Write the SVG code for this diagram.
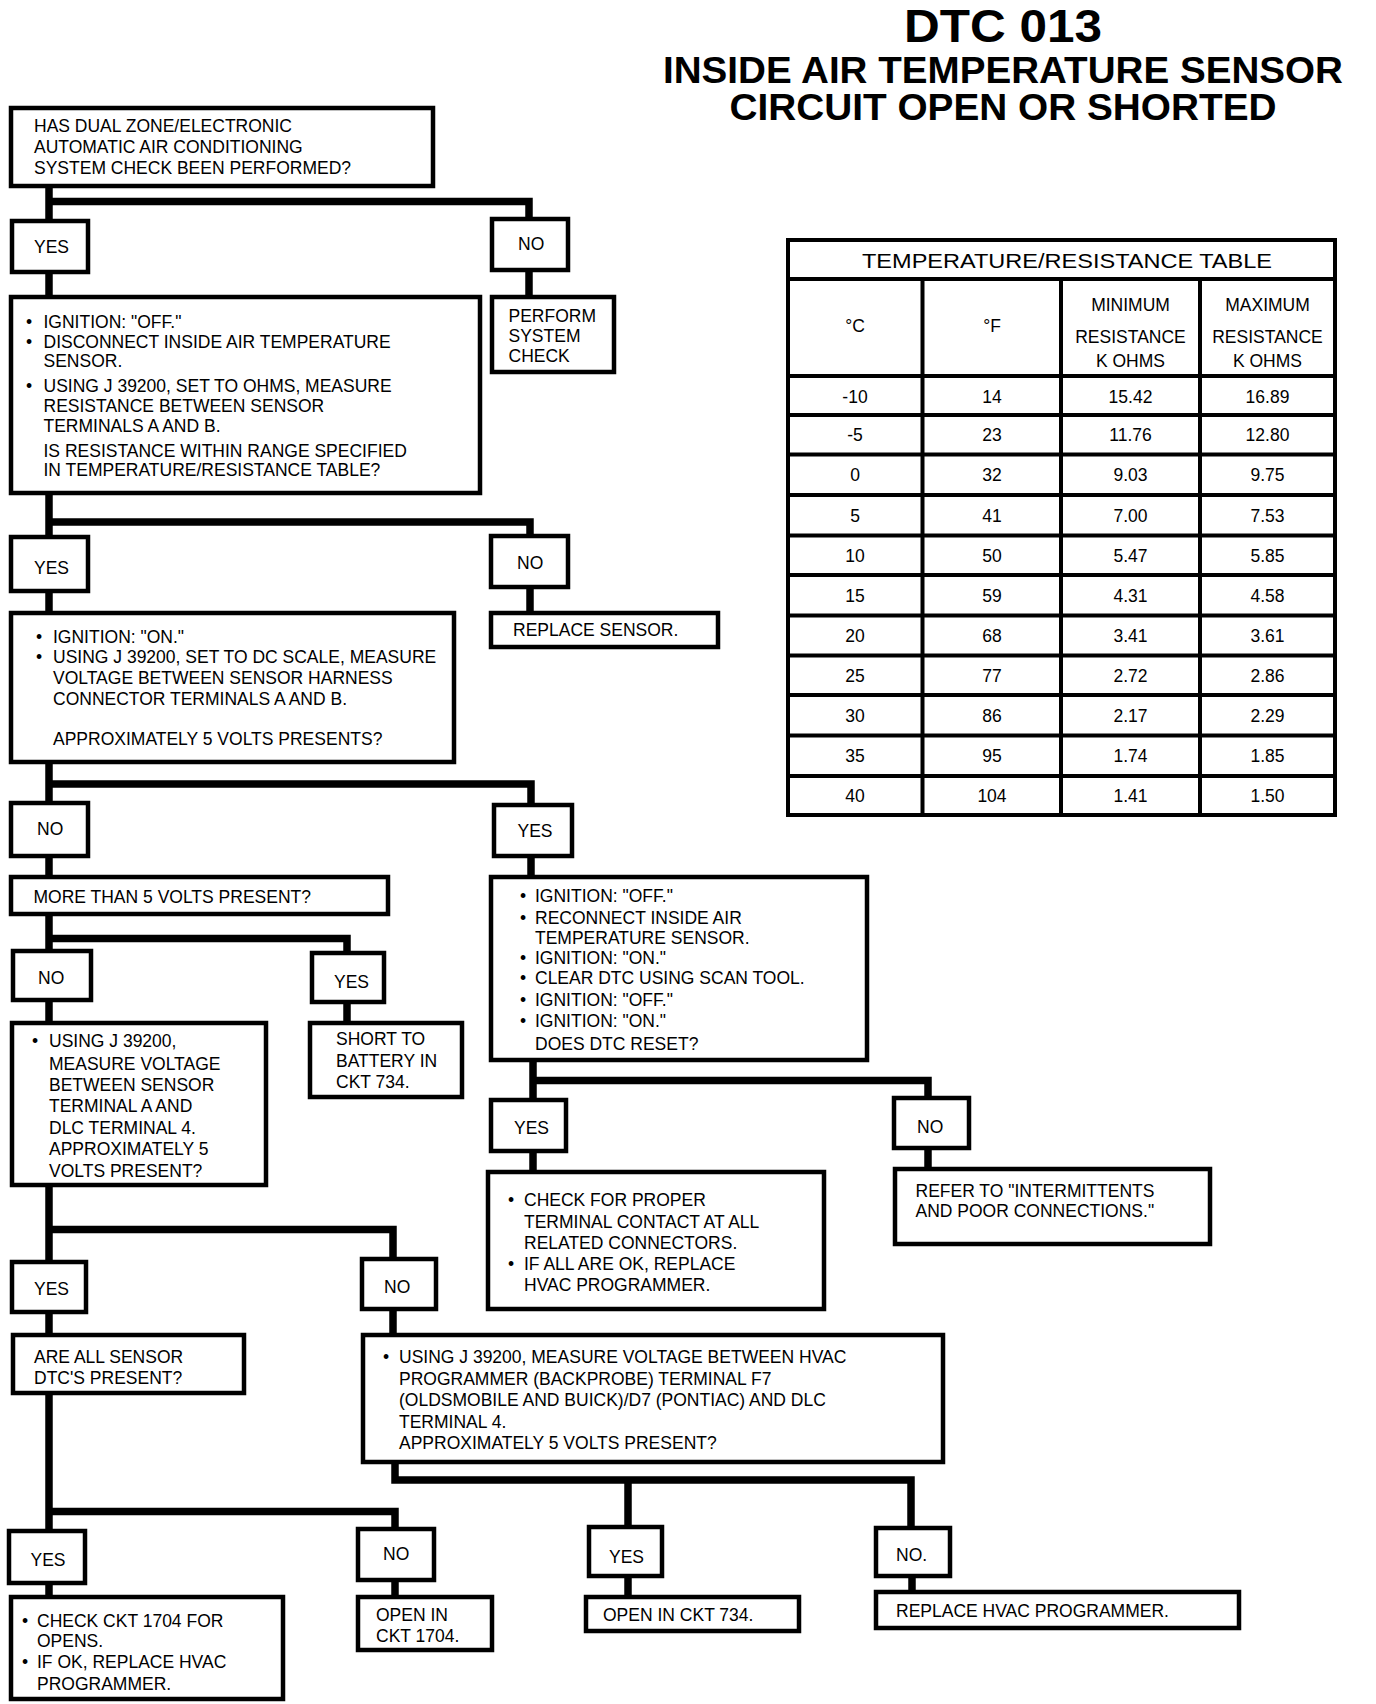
<svg xmlns="http://www.w3.org/2000/svg" width="1376" height="1704" viewBox="0 0 1376 1704">
<style>
  .bx { fill: #fff; stroke: #000; stroke-width: 4.5; }
  .cn { fill: none; stroke: #000; stroke-width: 7.5; stroke-linejoin: miter; stroke-linecap: butt; }
  .tl { fill: none; stroke: #000; stroke-width: 4; }
  text { font-family: "Liberation Sans", Arial, Helvetica, sans-serif; font-size: 17.5px; fill: #000; }
  .m { text-anchor: middle; }
  .h { font-weight: bold; text-anchor: middle; }
</style>
<rect width="1376" height="1704" fill="#fff"/>

<g id="title">
  <text class="h" x="1003" y="42" style="font-size:46px" textLength="198" lengthAdjust="spacingAndGlyphs">DTC 013</text>
  <text class="h" x="1003" y="82.5" style="font-size:37px" textLength="680" lengthAdjust="spacingAndGlyphs">INSIDE AIR TEMPERATURE SENSOR</text>
  <text class="h" x="1003" y="120" style="font-size:37px" textLength="547" lengthAdjust="spacingAndGlyphs">CIRCUIT OPEN OR SHORTED</text>
</g>

<g id="connectors">
  <path class="cn" d="M49,187 V220 M49,201.5 H529 V218"/>
  <path class="cn" d="M49,272 V297"/>
  <path class="cn" d="M529,270 V297"/>
  <path class="cn" d="M49,494 V537 M49,522 H530 V535"/>
  <path class="cn" d="M49,591 V612"/>
  <path class="cn" d="M530,587 V612"/>
  <path class="cn" d="M49,763 V802 M49,784 H531 V804"/>
  <path class="cn" d="M49,856 V876"/>
  <path class="cn" d="M531,856 V876"/>
  <path class="cn" d="M49,914 V950 M49,938.5 H347 V952"/>
  <path class="cn" d="M49,1000 V1022"/>
  <path class="cn" d="M347,1002 V1022"/>
  <path class="cn" d="M533,1061 V1099 M533,1080.5 H928 V1097"/>
  <path class="cn" d="M533,1152 V1171"/>
  <path class="cn" d="M928,1149 V1168"/>
  <path class="cn" d="M49,1186 V1261 M49,1229.5 H393 V1258"/>
  <path class="cn" d="M49,1313 V1334"/>
  <path class="cn" d="M393,1310 V1334"/>
  <path class="cn" d="M49,1394 V1530 M49,1511.5 H395 V1528"/>
  <path class="cn" d="M49,1584 V1596"/>
  <path class="cn" d="M395,1581 V1596"/>
  <path class="cn" d="M395,1463 V1480 H911 V1527 M628,1480 V1526"/>
  <path class="cn" d="M628,1577 V1596"/>
  <path class="cn" d="M912,1577 V1591"/>
</g>

<g id="n-start">
  <rect class="bx" x="11" y="108" width="422" height="78"/>
  <text x="34" y="132">HAS DUAL ZONE/ELECTRONIC</text>
  <text x="34" y="153">AUTOMATIC AIR CONDITIONING</text>
  <text x="34" y="173.5">SYSTEM CHECK BEEN PERFORMED?</text>
</g>
<g id="n-yes1"><rect class="bx" x="12" y="221" width="76" height="51"/><text x="34" y="253">YES</text></g>
<g id="n-no1"><rect class="bx" x="492" y="219" width="76" height="51"/><text x="518" y="250">NO</text></g>
<g id="n-perform">
  <rect class="bx" x="492" y="297" width="122" height="75"/>
  <text x="508.5" y="322">PERFORM</text>
  <text x="508.5" y="342">SYSTEM</text>
  <text x="508.5" y="362">CHECK</text>
</g>
<g id="n-ohms">
  <rect class="bx" x="11" y="297" width="469" height="196"/>
  <text y="328"><tspan x="26">•</tspan><tspan x="43.5">IGNITION: "OFF."</tspan></text>
  <text y="348"><tspan x="26">•</tspan><tspan x="43.5">DISCONNECT INSIDE AIR TEMPERATURE</tspan></text>
  <text x="43.5" y="367">SENSOR.</text>
  <text y="391.5"><tspan x="26">•</tspan><tspan x="43.5">USING J 39200, SET TO OHMS, MEASURE</tspan></text>
  <text x="43.5" y="411.5">RESISTANCE BETWEEN SENSOR</text>
  <text x="43.5" y="431.5">TERMINALS A AND B.</text>
  <text x="43.5" y="456.5">IS RESISTANCE WITHIN RANGE SPECIFIED</text>
  <text x="43.5" y="476">IN TEMPERATURE/RESISTANCE TABLE?</text>
</g>
<g id="n-yes2"><rect class="bx" x="11" y="537" width="77" height="54"/><text x="34" y="574">YES</text></g>
<g id="n-no2"><rect class="bx" x="491" y="536" width="77" height="51"/><text x="517" y="568.5">NO</text></g>
<g id="n-replace-sensor"><rect class="bx" x="491" y="613" width="227" height="34"/><text x="513" y="636">REPLACE SENSOR.</text></g>
<g id="n-volts">
  <rect class="bx" x="11" y="613" width="443" height="149"/>
  <text y="643"><tspan x="36">•</tspan><tspan x="53">IGNITION: "ON."</tspan></text>
  <text y="663"><tspan x="36">•</tspan><tspan x="53">USING J 39200, SET TO DC SCALE, MEASURE</tspan></text>
  <text x="53" y="684">VOLTAGE BETWEEN SENSOR HARNESS</text>
  <text x="53" y="705">CONNECTOR TERMINALS A AND B.</text>
  <text x="53" y="745">APPROXIMATELY 5 VOLTS PRESENTS?</text>
</g>
<g id="n-no3"><rect class="bx" x="11" y="803" width="77" height="53"/><text x="37" y="835">NO</text></g>
<g id="n-yes3"><rect class="bx" x="494" y="805" width="78" height="51"/><text x="517.5" y="837">YES</text></g>
<g id="n-more"><rect class="bx" x="11" y="877" width="377" height="37"/><text x="33.5" y="903">MORE THAN 5 VOLTS PRESENT?</text></g>
<g id="n-reset">
  <rect class="bx" x="491" y="877" width="376" height="183"/>
  <text y="902"><tspan x="520">•</tspan><tspan x="535">IGNITION: "OFF."</tspan></text>
  <text y="924"><tspan x="520">•</tspan><tspan x="535">RECONNECT INSIDE AIR</tspan></text>
  <text x="535" y="943.5">TEMPERATURE SENSOR.</text>
  <text y="963.5"><tspan x="520">•</tspan><tspan x="535">IGNITION: "ON."</tspan></text>
  <text y="984"><tspan x="520">•</tspan><tspan x="535">CLEAR DTC USING SCAN TOOL.</tspan></text>
  <text y="1005.5"><tspan x="520">•</tspan><tspan x="535">IGNITION: "OFF."</tspan></text>
  <text y="1027"><tspan x="520">•</tspan><tspan x="535">IGNITION: "ON."</tspan></text>
  <text x="535" y="1050">DOES DTC RESET?</text>
</g>
<g id="n-no4"><rect class="bx" x="13" y="951" width="78" height="49"/><text x="38" y="984">NO</text></g>
<g id="n-yes4"><rect class="bx" x="312" y="953" width="72" height="49"/><text x="334" y="988">YES</text></g>
<g id="n-dlc">
  <rect class="bx" x="12" y="1023" width="254" height="162"/>
  <text y="1047"><tspan x="32">•</tspan><tspan x="49">USING J 39200,</tspan></text>
  <text x="49" y="1069.5">MEASURE VOLTAGE</text>
  <text x="49" y="1090.5">BETWEEN SENSOR</text>
  <text x="49" y="1112">TERMINAL A AND</text>
  <text x="49" y="1133.5">DLC TERMINAL 4.</text>
  <text x="49" y="1155">APPROXIMATELY 5</text>
  <text x="49" y="1176.5">VOLTS PRESENT?</text>
</g>
<g id="n-short">
  <rect class="bx" x="310" y="1023" width="152" height="74"/>
  <text x="336" y="1045">SHORT TO</text>
  <text x="336" y="1067">BATTERY IN</text>
  <text x="336" y="1088">CKT 734.</text>
</g>
<g id="n-yes5"><rect class="bx" x="491" y="1100" width="75" height="51"/><text x="514" y="1134">YES</text></g>
<g id="n-no5"><rect class="bx" x="894" y="1098" width="75" height="50"/><text x="917" y="1133">NO</text></g>
<g id="n-check-contact">
  <rect class="bx" x="488" y="1172" width="336" height="137"/>
  <text y="1206"><tspan x="508">•</tspan><tspan x="524">CHECK FOR PROPER</tspan></text>
  <text x="524" y="1227.5">TERMINAL CONTACT AT ALL</text>
  <text x="524" y="1248.5">RELATED CONNECTORS.</text>
  <text y="1270"><tspan x="508">•</tspan><tspan x="524">IF ALL ARE OK, REPLACE</tspan></text>
  <text x="524" y="1291">HVAC PROGRAMMER.</text>
</g>
<g id="n-refer">
  <rect class="bx" x="895" y="1169" width="315" height="75"/>
  <text x="915.5" y="1197">REFER TO "INTERMITTENTS</text>
  <text x="915.5" y="1216.5">AND POOR CONNECTIONS."</text>
</g>
<g id="n-yes6"><rect class="bx" x="12" y="1262" width="74" height="50"/><text x="34" y="1295">YES</text></g>
<g id="n-no6"><rect class="bx" x="362" y="1259" width="74" height="50"/><text x="384" y="1293">NO</text></g>
<g id="n-all-dtc">
  <rect class="bx" x="13" y="1335" width="231" height="58"/>
  <text x="34" y="1363">ARE ALL SENSOR</text>
  <text x="34" y="1383.5">DTC'S PRESENT?</text>
</g>
<g id="n-hvac-volts">
  <rect class="bx" x="363" y="1335" width="580" height="127"/>
  <text y="1363"><tspan x="383">•</tspan><tspan x="399">USING J 39200, MEASURE VOLTAGE BETWEEN HVAC</tspan></text>
  <text x="399" y="1385">PROGRAMMER (BACKPROBE) TERMINAL F7</text>
  <text x="399" y="1406">(OLDSMOBILE AND BUICK)/D7 (PONTIAC) AND DLC</text>
  <text x="399" y="1428">TERMINAL 4.</text>
  <text x="399" y="1448.5">APPROXIMATELY 5 VOLTS PRESENT?</text>
</g>
<g id="n-yes7"><rect class="bx" x="9" y="1531" width="76" height="52"/><text x="30.5" y="1566">YES</text></g>
<g id="n-no7"><rect class="bx" x="358" y="1529" width="76" height="51"/><text x="383" y="1560">NO</text></g>
<g id="n-yes8"><rect class="bx" x="589" y="1527" width="73" height="49"/><text x="609" y="1562.5">YES</text></g>
<g id="n-no8"><rect class="bx" x="876" y="1528" width="74" height="48"/><text x="896" y="1561">NO.</text></g>
<g id="n-ckt1704">
  <rect class="bx" x="11" y="1597" width="272" height="102"/>
  <text y="1626.5"><tspan x="22">•</tspan><tspan x="37">CHECK CKT 1704 FOR</tspan></text>
  <text x="37" y="1647">OPENS.</text>
  <text y="1667.5"><tspan x="22">•</tspan><tspan x="37">IF OK, REPLACE HVAC</tspan></text>
  <text x="37" y="1689.5">PROGRAMMER.</text>
</g>
<g id="n-open1704">
  <rect class="bx" x="358" y="1597" width="134" height="53"/>
  <text x="376" y="1621">OPEN IN</text>
  <text x="376" y="1641.5">CKT 1704.</text>
</g>
<g id="n-open734"><rect class="bx" x="586" y="1597" width="213" height="34"/><text x="603" y="1621">OPEN IN CKT 734.</text></g>
<g id="n-replace-hvac"><rect class="bx" x="876" y="1592" width="363" height="36"/><text x="896" y="1616.5">REPLACE HVAC PROGRAMMER.</text></g>

<g id="table">
  <rect class="tl" x="788" y="240" width="547" height="575"/>
  <path class="tl" d="M788,279 H1335 M788,376 H1335 M788,415 H1335 M788,454.5 H1335 M788,495 H1335 M788,535.5 H1335 M788,575 H1335 M788,615.5 H1335 M788,655.5 H1335 M788,695 H1335 M788,735.5 H1335 M788,776 H1335"/>
  <path class="tl" d="M922.5,279 V815 M1061,279 V815 M1200,279 V815"/>
  <text class="m" x="1067" y="268" style="font-size:21px" textLength="410" lengthAdjust="spacingAndGlyphs">TEMPERATURE/RESISTANCE TABLE</text>
  <text class="m" x="855" y="332">°C</text>
  <text class="m" x="992" y="332">°F</text>
  <text class="m" x="1130.5" y="311">MINIMUM</text>
  <text class="m" x="1130.5" y="342.5">RESISTANCE</text>
  <text class="m" x="1130.5" y="366.5">K OHMS</text>
  <text class="m" x="1267.5" y="311">MAXIMUM</text>
  <text class="m" x="1267.5" y="342.5">RESISTANCE</text>
  <text class="m" x="1267.5" y="366.5">K OHMS</text>
  <g class="m">
    <text class="m" x="855" y="403">-10</text><text class="m" x="992" y="403">14</text><text class="m" x="1130.5" y="403">15.42</text><text class="m" x="1267.5" y="403">16.89</text>
    <text class="m" x="855" y="441">-5</text><text class="m" x="992" y="441">23</text><text class="m" x="1130.5" y="441">11.76</text><text class="m" x="1267.5" y="441">12.80</text>
    <text class="m" x="855" y="481">0</text><text class="m" x="992" y="481">32</text><text class="m" x="1130.5" y="481">9.03</text><text class="m" x="1267.5" y="481">9.75</text>
    <text class="m" x="855" y="521.5">5</text><text class="m" x="992" y="521.5">41</text><text class="m" x="1130.5" y="521.5">7.00</text><text class="m" x="1267.5" y="521.5">7.53</text>
    <text class="m" x="855" y="561.5">10</text><text class="m" x="992" y="561.5">50</text><text class="m" x="1130.5" y="561.5">5.47</text><text class="m" x="1267.5" y="561.5">5.85</text>
    <text class="m" x="855" y="601.5">15</text><text class="m" x="992" y="601.5">59</text><text class="m" x="1130.5" y="601.5">4.31</text><text class="m" x="1267.5" y="601.5">4.58</text>
    <text class="m" x="855" y="642">20</text><text class="m" x="992" y="642">68</text><text class="m" x="1130.5" y="642">3.41</text><text class="m" x="1267.5" y="642">3.61</text>
    <text class="m" x="855" y="681.5">25</text><text class="m" x="992" y="681.5">77</text><text class="m" x="1130.5" y="681.5">2.72</text><text class="m" x="1267.5" y="681.5">2.86</text>
    <text class="m" x="855" y="721.5">30</text><text class="m" x="992" y="721.5">86</text><text class="m" x="1130.5" y="721.5">2.17</text><text class="m" x="1267.5" y="721.5">2.29</text>
    <text class="m" x="855" y="762">35</text><text class="m" x="992" y="762">95</text><text class="m" x="1130.5" y="762">1.74</text><text class="m" x="1267.5" y="762">1.85</text>
    <text class="m" x="855" y="802">40</text><text class="m" x="992" y="802">104</text><text class="m" x="1130.5" y="802">1.41</text><text class="m" x="1267.5" y="802">1.50</text>
  </g>
</g>
</svg>
